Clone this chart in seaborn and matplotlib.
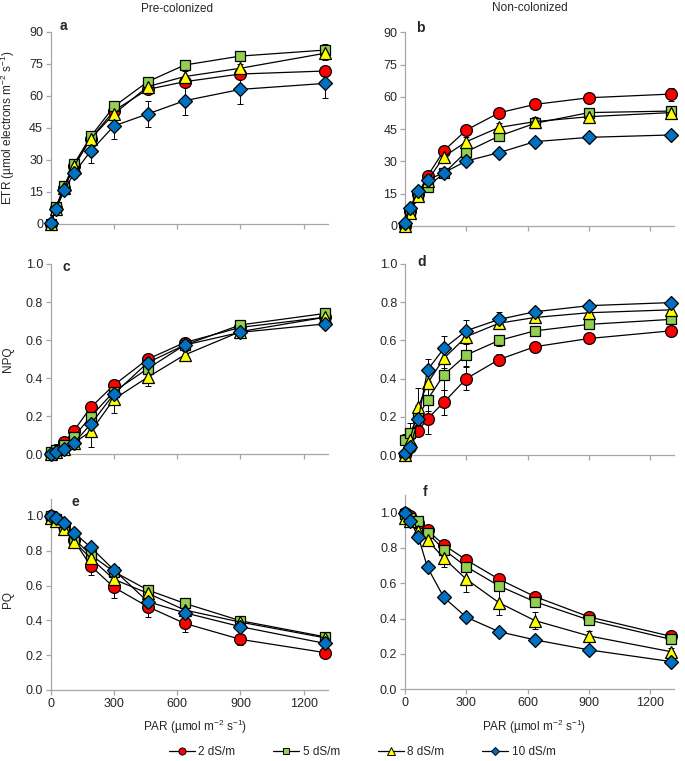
import matplotlib
matplotlib.use('Agg')
import matplotlib.pyplot as plt
from matplotlib.lines import Line2D
import seaborn as sns

sns.set_style('white')
plt.rcParams['font.family'] = ['Liberation Sans', 'DejaVu Sans']
plt.rcParams['mathtext.fontset'] = 'custom'
plt.rcParams['mathtext.rm'] = 'Liberation Sans'

# ── data ────────────────────────────────────────────────────────────────
par = [0, 25, 65, 110, 190, 300, 460, 635, 900, 1300]
levels = ['2 dS/m', '5 dS/m', '8 dS/m', '10 dS/m']

# ETR, pre-colonized (a)
etr_pre = {
    '2 dS/m':  [0, 7.5, 17, 27, 40, 53, 63, 66.6, 70.2, 71.6],
    '5 dS/m':  [0, 8, 18, 28, 41, 55, 66.6, 74.4, 78.6, 81.4],
    '8 dS/m':  [0, 7, 17, 27, 40, 51.5, 64.3, 69, 72.9, 79.9],
    '10 dS/m': [0.6, 6.9, 15.9, 23.7, 34.2, 45.9, 51.5, 57.7, 63, 65.8],
}
etr_pre_err = {
    '2 dS/m':  [0, 0.5, 1, 1.5, 2, 2, 2, 2.5, 2, 2],
    '5 dS/m':  [0, 0.5, 1, 1.5, 2, 2, 2, 2, 2, 3],
    '8 dS/m':  [0, 0.5, 1, 1.5, 2, 2.5, 2, 2.5, 2, 3],
    '10 dS/m': [0, 0.5, 1, 2, 5.5, 6, 6, 6.5, 7, 7],
}
# ETR, non-colonized (b)
etr_non = {
    '2 dS/m':  [0, 7, 15, 23.2, 35, 44.6, 52.6, 56.5, 59.6, 61.3],
    '5 dS/m':  [0, 6, 14, 18.3, 24.5, 34.5, 41.8, 47.7, 52.7, 53.4],
    '8 dS/m':  [0, 6, 14, 21, 32.2, 39.2, 45.8, 48.5, 50.8, 52.7],
    '10 dS/m': [1.2, 8.2, 16.3, 21.4, 24.8, 30.2, 34.1, 39.2, 41.2, 42.3],
}
etr_non_err = {
    '2 dS/m':  [0, 0.5, 1, 1.5, 1.5, 1.5, 1.5, 1.5, 1.5, 3],
    '5 dS/m':  [0, 0.5, 1, 1.5, 1.5, 3, 2, 2, 2, 2],
    '8 dS/m':  [0, 0.5, 1, 1.5, 1.5, 2, 2, 2, 3, 2],
    '10 dS/m': [0, 0.5, 1, 1, 1, 1, 1, 1, 1, 1],
}
# NPQ, pre-colonized (c)
npq_pre = {
    '2 dS/m':  [0, 0.02, 0.066, 0.124, 0.247, 0.364, 0.50, 0.587, 0.667, 0.72],
    '5 dS/m':  [0.01, 0.02, 0.05, 0.093, 0.198, 0.33, 0.45, 0.574, 0.68, 0.74],
    '8 dS/m':  [0, 0.01, 0.03, 0.06, 0.12, 0.29, 0.405, 0.522, 0.645, 0.72],
    '10 dS/m': [0, 0.01, 0.03, 0.06, 0.158, 0.317, 0.482, 0.574, 0.641, 0.685],
}
npq_pre_err = {
    '2 dS/m':  [0, 0.01, 0.01, 0.02, 0.02, 0.02, 0.02, 0.02, 0.02, 0.02],
    '5 dS/m':  [0, 0.01, 0.01, 0.02, 0.02, 0.03, 0.03, 0.02, 0.02, 0.02],
    '8 dS/m':  [0, 0.01, 0.02, 0.03, 0.08, 0.075, 0.045, 0.02, 0.02, 0.02],
    '10 dS/m': [0, 0.01, 0.01, 0.02, 0.02, 0.02, 0.02, 0.02, 0.02, 0.02],
}
# NPQ, non-colonized (d)
npq_non = {
    '2 dS/m':  [0, 0.04, 0.127, 0.19, 0.276, 0.40, 0.50, 0.567, 0.61, 0.65],
    '5 dS/m':  [0.08, 0.117, 0.2, 0.29, 0.42, 0.524, 0.60, 0.65, 0.684, 0.71],
    '8 dS/m':  [0, 0.08, 0.25, 0.375, 0.506, 0.62, 0.69, 0.72, 0.745, 0.76],
    '10 dS/m': [0.01, 0.04, 0.187, 0.445, 0.558, 0.651, 0.71, 0.75, 0.782, 0.798],
}
npq_non_err = {
    '2 dS/m':  [0, 0.02, 0.03, 0.08, 0.065, 0.06, 0.03, 0.02, 0.02, 0.02],
    '5 dS/m':  [0.03, 0.05, 0.06, 0.06, 0.08, 0.06, 0.03, 0.02, 0.02, 0.02],
    '8 dS/m':  [0, 0.04, 0.1, 0.06, 0.05, 0.04, 0.03, 0.02, 0.02, 0.02],
    '10 dS/m': [0, 0.02, 0.03, 0.06, 0.065, 0.055, 0.04, 0.02, 0.02, 0.02],
}
# PQ, pre-colonized (e)
pq_pre = {
    '2 dS/m':  [1.0, 0.98, 0.94, 0.86, 0.713, 0.59, 0.479, 0.383, 0.291, 0.215],
    '5 dS/m':  [1.0, 0.98, 0.94, 0.87, 0.776, 0.68, 0.575, 0.498, 0.398, 0.306],
    '8 dS/m':  [0.99, 0.97, 0.925, 0.853, 0.757, 0.636, 0.556, 0.46, 0.39, 0.30],
    '10 dS/m': [1.0, 0.99, 0.96, 0.905, 0.82, 0.69, 0.508, 0.444, 0.364, 0.268],
}
pq_pre_err = {
    '2 dS/m':  [0, 0.01, 0.02, 0.03, 0.05, 0.06, 0.06, 0.05, 0.03, 0.02],
    '5 dS/m':  [0, 0.01, 0.01, 0.02, 0.02, 0.02, 0.02, 0.02, 0.02, 0.02],
    '8 dS/m':  [0, 0.01, 0.01, 0.02, 0.02, 0.02, 0.02, 0.02, 0.02, 0.02],
    '10 dS/m': [0, 0.01, 0.01, 0.02, 0.02, 0.02, 0.02, 0.02, 0.02, 0.02],
}
# PQ, non-colonized (f)
pq_non = {
    '2 dS/m':  [1.0, 0.98, 0.94, 0.90, 0.817, 0.732, 0.623, 0.525, 0.41, 0.30],
    '5 dS/m':  [0.99, 0.97, 0.95, 0.887, 0.79, 0.694, 0.585, 0.496, 0.392, 0.283],
    '8 dS/m':  [0.968, 0.95, 0.898, 0.845, 0.742, 0.623, 0.49, 0.389, 0.302, 0.213],
    '10 dS/m': [1.0, 0.955, 0.864, 0.69, 0.52, 0.408, 0.326, 0.28, 0.223, 0.157],
}
pq_non_err = {
    '2 dS/m':  [0, 0.01, 0.01, 0.01, 0.01, 0.01, 0.01, 0.01, 0.01, 0.01],
    '5 dS/m':  [0, 0.01, 0.01, 0.02, 0.02, 0.02, 0.02, 0.02, 0.02, 0.02],
    '8 dS/m':  [0.02, 0.02, 0.03, 0.03, 0.05, 0.07, 0.07, 0.05, 0.03, 0.02],
    '10 dS/m': [0, 0.01, 0.01, 0.01, 0.01, 0.01, 0.01, 0.01, 0.01, 0.01],
}

# ── styling ─────────────────────────────────────────────────────────────
colors = {'2 dS/m': '#FF0000', '5 dS/m': '#92D050',
          '8 dS/m': '#FFFF00', '10 dS/m': '#0070C0'}
markers = {'2 dS/m': 'o', '5 dS/m': 's', '8 dS/m': '^', '10 dS/m': 'D'}
msizes = {'2 dS/m': 8.5, '5 dS/m': 7.5, '8 dS/m': 9, '10 dS/m': 7}
AX_GREY = '#A6A6A6'

W, H = 685, 761
fig = plt.figure(figsize=(W / 100, H / 100), dpi=100)

def px_rect(x0, y_top, x1, y_bot):
    return [x0 / W, 1 - y_bot / H, (x1 - x0) / W, (y_bot - y_top) / H]

panels = [
    # data, err, rect(px), ylim, yticks, letter, letter pos
    (etr_pre, etr_pre_err, px_rect(50.7, 31.7, 328, 224), (0, 90), range(0, 91, 15), 'a', (63, 26)),
    (etr_non, etr_non_err, px_rect(405, 32.3, 674, 226), (0, 90), range(0, 91, 15), 'b', (420, 28)),
    (npq_pre, npq_pre_err, px_rect(50.7, 264, 328, 454.3), (0, 1), [0, .2, .4, .6, .8, 1.0], 'c', (66, 267)),
    (npq_non, npq_non_err, px_rect(405, 264, 674, 455), (0, 1), [0, .2, .4, .6, .8, 1.0], 'd', (422, 262)),
    (pq_pre, pq_pre_err, px_rect(50.7, 498.6, 328, 690), (0, 1.1), [0, .2, .4, .6, .8, 1.0], 'e', (75, 502)),
    (pq_non, pq_non_err, px_rect(405, 495, 674, 689.3), (0, 1.1), [0, .2, .4, .6, .8, 1.0], 'f', (425, 492)),
]

for i, (data, err, rect, ylim, yticks, letter, lpos) in enumerate(panels):
    ax = fig.add_axes(rect)
    for lev in levels:
        ax.errorbar(par, data[lev], yerr=err[lev], fmt='none', ecolor='black',
                    elinewidth=0.7, capsize=2.5, capthick=0.7, zorder=2, clip_on=False)
        sns.lineplot(x=par, y=data[lev], ax=ax, color='black', lw=0.9,
                     marker=markers[lev], markersize=msizes[lev],
                     markerfacecolor=colors[lev], markeredgecolor='black',
                     markeredgewidth=0.9, zorder=3, clip_on=False)
    ax.set_xlim(0, 1315)
    ax.set_ylim(*ylim)
    ax.set_xticks([0, 300, 600, 900, 1200])
    ax.set_yticks(list(yticks))
    if ylim[1] in (1, 1.1):
        ax.set_yticklabels([f'{t:.1f}' for t in yticks])
    sns.despine(ax=ax)
    for s in ('left', 'bottom'):
        ax.spines[s].set_color(AX_GREY)
        ax.spines[s].set_linewidth(0.9)
    ax.tick_params(axis='both', length=3.5, width=0.9, color=AX_GREY,
                   labelsize=9, labelcolor='#262626', pad=2)
    ax.tick_params(axis='x', bottom=True, labelbottom=(i >= 4))
    ax.tick_params(axis='y', left=True)
    ax.set_xlabel('')
    ax.set_ylabel('')
    fig.text(lpos[0] / W, 1 - lpos[1] / H, letter, fontsize=10, fontweight='bold',
             ha='center', va='center')

# column titles
fig.text(177.5 / W, 1 - 9 / H, 'Pre-colonized', fontsize=8.5, ha='center', va='center')
fig.text(530 / W, 1 - 8 / H, 'Non-colonized', fontsize=8.5, ha='center', va='center')

# y labels
fig.text(8 / W, 1 - 128 / H,
         r'ETR (µmol electrons m$^{\mathregular{-2}}$ s$^{\mathregular{-1}}$)',
         rotation=90, fontsize=8.5, ha='center', va='center')
fig.text(8 / W, 1 - 359 / H, 'NPQ', rotation=90, fontsize=8.5, ha='center', va='center')
fig.text(8 / W, 1 - 600 / H, 'PQ', rotation=90, fontsize=8.5, ha='center', va='center')

# x labels
xlab = r'PAR (µmol m$^{\mathregular{-2}}$ s$^{\mathregular{-1}}$)'
fig.text(195 / W, 1 - 727 / H, xlab, fontsize=8.5, ha='center', va='center')
fig.text(534 / W, 1 - 727 / H, xlab, fontsize=8.5, ha='center', va='center')

# legend
handles = [Line2D([0], [0], color='black', lw=0.9, marker=markers[lev],
                  markersize=msizes[lev] * 0.6, markerfacecolor=colors[lev],
                  markeredgecolor='black', markeredgewidth=0.7)
           for lev in levels]
fig.legend(handles, levels, loc='center', bbox_to_anchor=(362 / W, 1 - 752 / H),
           ncol=4, frameon=False, fontsize=8.5, handlelength=2.2,
           handletextpad=0.3, columnspacing=3.2)

fig.savefig('out.png', dpi=100)
